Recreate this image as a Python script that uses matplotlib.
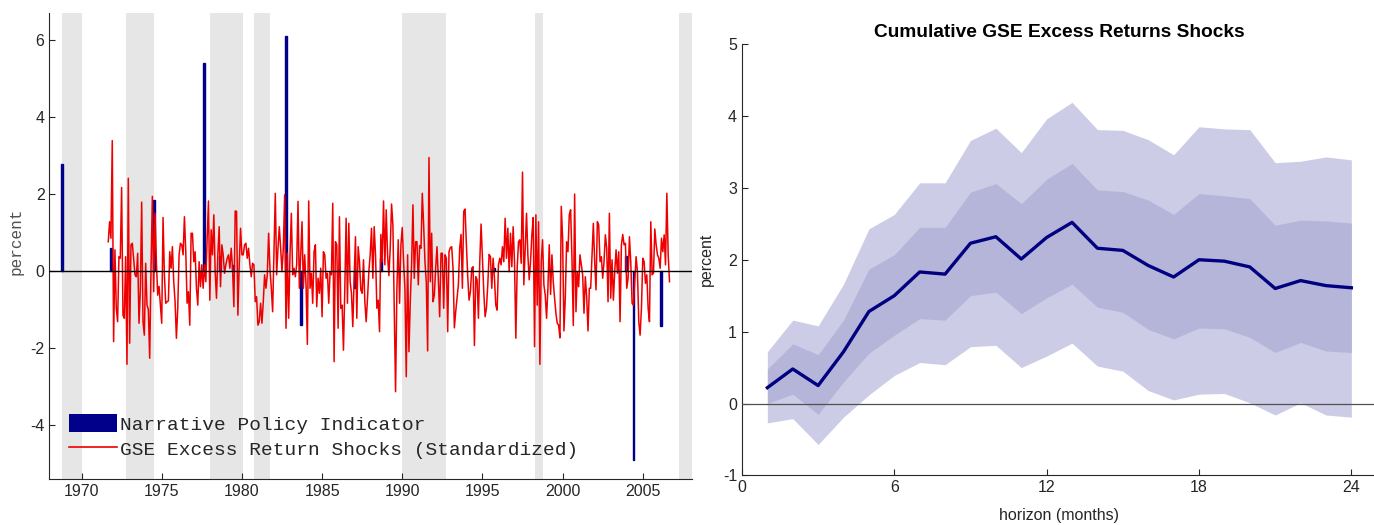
#!/usr/bin/env python3
"""
Narrative policy indicator vs. GSE excess return shocks, plus cumulative IRF.
"""

import numpy as np
import pandas as pd
import matplotlib
matplotlib.use("Agg")
import matplotlib.pyplot as plt
from matplotlib.patches import Patch
from matplotlib.lines import Line2D

plt.rcParams["axes.unicode_minus"] = False

# --- left panel data -------------------------------------------------------
shock_start = "1971-09"
gse_shocks = [
    # 1971-09 .. (strip 1)
    0.76, 1.28, 0.85, 3.39, -1.84, 0.55, -0.97, -1.32, 0.37, 0.33,
    2.17, -1.15, -1.23, 0.37, -2.43, 2.41, -1.88, 0.68, 0.72, 0.30,
    -0.10, -0.15, 0.46, -1.36, -0.50, 1.79, -1.32, -1.67, 0.20, -0.89,
    -1.00, -2.27, 0.07, 1.94, -0.54, 1.50, 0.24, -0.63, -0.40, -0.89,
    -1.36, 1.39, -0.10, -0.84, -0.80, -0.78, 0.50, 0.07, 0.63, -0.28,
    -0.80, -1.75, -0.97, 0.42,
    # strip 2
    0.72, 0.68, 0.42, 1.41, 0.50, -0.84, -0.54, -1.41, 0.98, 0.98,
    0.24, 0.50, -0.45, -0.89, 0.24, -0.41, 0.16, -0.45, 0.16, -0.28,
    0.85, 1.82, -0.76, 1.07, 0.42, 1.46, -0.02, -0.71, 0.42, 1.15,
    -0.41, 0.68, 0.42, -0.06, 0.16, 0.33, 0.42, 0.07, 0.59, 0.07,
    -0.93, 1.56, 1.55, -1.15, 0.16, 1.11, 0.42, 0.42, 0.68, 0.72,
    0.33, 0.59, 0.16, -0.15, 0.20, 0.16, -0.80, -0.67, -1.41, -1.32,
    # strip 3
    -0.84, -1.36, -0.80, -0.10, -0.45, -0.10, 0.98, 0.07, -0.45, -1.06,
    0.42, 2.02, -0.10, 0.59, 1.15, 0.59, -0.02, 0.59, 1.98, -1.49,
    0.46, -1.23, 0.42, 1.50, -0.10, 0.07, -0.15, 0.16, 1.81, -0.45,
    0.42, 1.28, -0.45, 0.42, -0.36, -1.91, 1.82, -0.45, -0.06, -0.84,
    0.50, 0.68, -0.93, -0.19, -0.58, 0.07, -1.19, 0.50, 0.42, -0.19,
    -0.06, -0.84, -0.02, -0.10, 1.76, -2.36, 0.76, 0.68, -1.49,
    # strip 4
    1.41, -0.97, -0.89, -2.06, -0.50, 1.37, -0.84, 1.24, -0.28, -0.58,
    -1.45, -0.19, 0.89, -1.23, 0.63, 0.24, -0.49, -0.58, 0.29, -0.80,
    -1.32, -0.71, -0.02, 0.42, 1.11, -0.19, 1.15, 0.42, -0.97, -0.76,
    -1.58, 0.95, 0.24, 1.82, 0.16, 1.59, 0.42, -0.12, 0.59, 1.74,
    1.20, -0.97, -3.14, -0.45, 0.81, -0.84, 0.68, 1.13, 0.24, -0.45,
    -2.75, 0.42, -2.10, -0.80, 0.16, 1.72, -0.19, 0.76,
    # strip 5
    0.76, -0.36, 0.66, 0.59, 2.02, 1.20, 0.24, -0.30, -2.08, 2.95,
    -0.28, 0.98, -0.80, -0.63, 0.07, 0.63, -0.19, -1.19, 0.46, 0.46,
    -0.97, 0.42, 0.33, -1.58, 0.50, 0.61, 0.63, 0.07, -1.48, -1.06,
    -0.71, -0.36, 0.59, 0.95, -0.45, 1.55, 1.61, 0.68, -0.15, -0.76,
    -0.54, 0.07, 0.11, -1.94, -0.15, -0.23, -1.23, 0.24, 1.22, 0.33,
    -0.54, -1.19, -0.97, -0.36, 0.43, 0.37, -0.45, 0.33, -0.19, -0.89,
    # strip 6
    -1.02, 0.16, 0.33, 0.16, 0.63, 0.24, 1.37, 0.33, 1.11, -0.02,
    0.98, 0.11, 1.15, 0.24, -1.75, 0.07, 0.76, 0.81, 0.20, 2.57,
    -0.36, 0.59, 1.50, 0.42, -0.23, 0.24, 0.94, 1.39, -1.97, 1.46,
    -0.89, 1.28, -2.43, 0.24, 0.81, -0.36, -0.63, -1.23, -0.45, 0.68,
    -0.61, 0.42, -0.28, -0.71, -1.10, -1.36, -1.41, -1.74, 1.68, 0.85,
    -1.56, -0.71, 0.76, 0.50, 1.46, 1.59, 0.33, -1.42, 2.00, -1.06,
    -0.02,
    # strip 7
    -0.41, 0.42, 0.16, -0.10, -1.10, -0.15, -0.67, -1.56, -0.45, -0.45,
    0.42, 1.24, 0.24, -0.49, 1.28, 1.20, 0.24, 0.37, -0.19, 0.24,
    0.94, 0.59, -0.80, 1.50, -0.71, 0.29, -0.76, -0.02, 0.55, -0.06,
    0.50, -1.32, 0.68, 0.95, 0.68, 0.72, -0.45, -0.19, 0.89, 0.24,
    -0.84, -0.89, -0.28, 0.37, -0.02, -1.32, -1.67, -0.97, 0.33, 0.24,
    -0.32, -0.10, -0.97, -1.32, 1.28, -0.10, -0.06, 1.09, 0.68, 0.42,
    0.33, 0.07, 0.85, 0.50, 0.94, 0.16, 2.02, 0.42, -0.28,
]

# narrative policy indicator (decimal year, value)
policy_dates = [1968.77, 1971.82, 1974.52, 1977.65, 1978.65, 1979.45,
                1982.76, 1983.71, 1987.05, 1988.69, 1995.74, 2003.97,
                2004.42, 2006.15]
policy_vals = [2.78, 0.61, 1.85, 5.40, 0.40, 0.15,
               6.10, -1.40, -0.45, 0.33, 0.08, 0.39,
               -4.93, -1.42]

# shaded episodes (start, end) in decimal years
shade_periods = [(1968.77, 1970.01), (1972.75, 1974.50), (1977.98, 1980.04),
                 (1980.78, 1981.78), (1989.98, 1992.72), (1998.26, 1998.76),
                 (2007.28, 2008.20)]

# --- right panel data ------------------------------------------------------
horizon = list(range(1, 25))
irf_median = [0.22, 0.48, 0.25, 0.72, 1.28, 1.50, 1.83, 1.80, 2.23, 2.32,
              2.01, 2.31, 2.52, 2.16, 2.13, 1.92, 1.76, 2.00, 1.98, 1.90,
              1.60, 1.71, 1.64, 1.61]
outer_hi = [0.72, 1.16, 1.08, 1.66, 2.43, 2.63, 3.07, 3.07, 3.66, 3.83,
            3.49, 3.96, 4.19, 3.81, 3.80, 3.67, 3.46, 3.85, 3.82, 3.81,
            3.35, 3.37, 3.43, 3.39]
outer_lo = [-0.27, -0.21, -0.57, -0.19, 0.12, 0.39, 0.57, 0.54, 0.79, 0.81,
            0.50, 0.66, 0.84, 0.52, 0.45, 0.18, 0.05, 0.13, 0.14, 0.01,
            -0.16, 0.01, -0.16, -0.19]
inner_hi = [0.48, 0.83, 0.68, 1.16, 1.87, 2.07, 2.45, 2.45, 2.94, 3.06,
            2.78, 3.12, 3.34, 2.97, 2.95, 2.83, 2.63, 2.92, 2.89, 2.85,
            2.48, 2.55, 2.54, 2.51]
inner_lo = [0.00, 0.13, -0.15, 0.30, 0.70, 0.95, 1.18, 1.16, 1.50, 1.55,
            1.25, 1.47, 1.66, 1.34, 1.27, 1.03, 0.90, 1.05, 1.04, 0.92,
            0.71, 0.85, 0.73, 0.71]

SANS = ["Liberation Sans", "DejaVu Sans"]
MONO = ["Liberation Mono", "DejaVu Sans Mono"]
TXT = "#262626"


def style_axes(ax):
    ax.spines["top"].set_visible(False)
    ax.spines["right"].set_visible(False)
    for s in ("left", "bottom"):
        ax.spines[s].set_color(TXT)
        ax.spines[s].set_linewidth(0.8)
    ax.tick_params(direction="in", length=4, width=0.8, color=TXT,
                   labelcolor=TXT, labelsize=11.5)
    for lab in ax.get_xticklabels() + ax.get_yticklabels():
        lab.set_family(SANS)


fig = plt.figure(figsize=(13.74, 5.25), dpi=100)

# ---- left: shocks ----
ax1 = fig.add_axes([0.036, 0.087, 0.468, 0.889])
for a, b in shade_periods:
    ax1.axvspan(a, b, color="#e6e6e6", lw=0, zorder=0)

dates = pd.date_range(shock_start, periods=len(gse_shocks), freq="MS")
x_shock = dates.year + (dates.month - 1) / 12.0

ax1.bar(policy_dates, policy_vals, width=0.12, color="#00008b",
        edgecolor="#00008b", linewidth=1.0, zorder=2)
ax1.plot(x_shock, gse_shocks, color="#ee0000", lw=1.1, zorder=3)
ax1.axhline(0, color="black", lw=1.0, zorder=4)

ax1.set_xlim(1968.0, 2008.1)
ax1.set_ylim(-5.42, 6.72)
ax1.set_xticks(range(1970, 2006, 5))
ax1.set_yticks([-4, -2, 0, 2, 4, 6])
ax1.set_ylabel("percent", family=MONO, fontsize=11.5, color="#505050")
ax1.yaxis.set_label_coords(-0.041, 0.51)
style_axes(ax1)

handles = [Patch(facecolor="#00008b", edgecolor="none"),
           Line2D([], [], color="#ee0000", lw=1.2)]
leg = ax1.legend(handles, ["Narrative Policy Indicator",
                           "GSE Excess Return Shocks (Standardized)"],
                 loc="lower left", bbox_to_anchor=(0.03, 0.044),
                 frameon=False, prop={"family": MONO, "size": 14},
                 handlelength=2.5, handleheight=1.0, handletextpad=0.15,
                 labelspacing=0.3, borderpad=0, borderaxespad=0)
for t in leg.get_texts():
    t.set_color(TXT)

# ---- right: cumulative IRF ----
ax2 = fig.add_axes([0.540, 0.0945, 0.462, 0.8215])
ax2.fill_between(horizon, outer_lo, outer_hi, color="#ccccE6", lw=0, zorder=1)
ax2.fill_between(horizon, inner_lo, inner_hi, color="#b5b5d9", lw=0, zorder=2)
ax2.axhline(0, color="#505050", lw=0.9, zorder=3)
ax2.plot(horizon, irf_median, color="#000080", lw=2.4, zorder=4)

ax2.set_xlim(0, 25)
ax2.set_ylim(-1, 5)
ax2.set_xticks([0, 6, 12, 18, 24])
ax2.set_yticks(range(-1, 6))
ax2.set_title("Cumulative GSE Excess Returns Shocks", family=SANS,
              fontsize=13.8, fontweight="bold", color="black", pad=5)
ax2.set_xlabel("horizon (months)", family=SANS, fontsize=11.5, color=TXT,
               labelpad=9)
ax2.set_ylabel("percent", family=SANS, fontsize=11.5, color=TXT)
ax2.yaxis.set_label_coords(-0.044, 0.5)
style_axes(ax2)

fig.savefig("out.png", dpi=100)
